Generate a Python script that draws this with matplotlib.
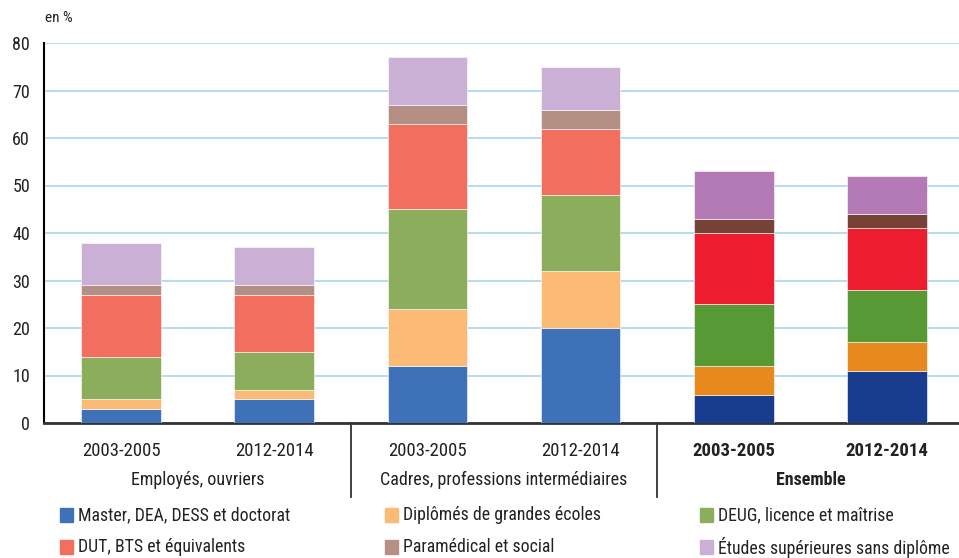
import matplotlib
matplotlib.use("Agg")
import matplotlib.pyplot as plt
import numpy as np
from matplotlib.patches import Rectangle
from matplotlib.transforms import blended_transform_factory

plt.rcParams['font.family'] = ['Roboto Condensed', 'DejaVu Sans']

periods = ["2003-2005", "2012-2014", "2003-2005", "2012-2014", "2003-2005", "2012-2014"]
groups = ["Employés, ouvriers", "Cadres, professions intermédiaires", "Ensemble"]
series = ["Master, DEA, DESS et doctorat", "Diplômés de grandes écoles", "DEUG, licence et maîtrise",
          "DUT, BTS et équivalents", "Paramédical et social", "Études supérieures sans diplôme"]

master = [3, 5, 12, 20, 6, 11]
grandes_ecoles = [2, 2, 12, 12, 6, 6]
deug = [9, 8, 21, 16, 13, 11]
dut = [13, 12, 18, 14, 15, 13]
paramedical = [2, 2, 4, 4, 3, 3]
sans_diplome = [9, 8, 10, 9, 10, 8]
values = [master, grandes_ecoles, deug, dut, paramedical, sans_diplome]

light = ["#3E71B8", "#FBBA76", "#8CAD5C", "#F26E5F", "#B48F83", "#CBB0D6"]
dark = ["#183C8E", "#E8891D", "#569935", "#ED1C2E", "#774236", "#B37AB5"]

fig = plt.figure(figsize=(9.59, 5.58), dpi=100)
ax = fig.add_axes([44 / 959, 1 - 423 / 558, 1 - 44 / 959, (423 - 43) / 558])

x = np.arange(len(periods))
bottom = np.zeros(len(periods))
for i, vals in enumerate(values):
    cols = [light[i]] * 4 + [dark[i]] * 2
    ax.bar(x, vals, 0.52, bottom=bottom, color=cols, edgecolor="white", linewidth=0.4, zorder=3)
    bottom += np.array(vals)

ax.set_ylim(0, 80)
ax.set_xlim(-0.503, 5.47)
ax.set_yticks(range(0, 81, 10))
ax.yaxis.grid(True, color="#A8D4F0", lw=1.2, zorder=0)
ax.tick_params(axis="y", length=0, pad=10, labelsize=13, labelcolor="#222222")
ax.tick_params(axis="x", length=0, pad=14, labelsize=13.5, labelcolor="#222222")
ax.set_xticks(x)
ax.set_xticklabels(periods)
for lab in ax.get_xticklabels()[4:]:
    lab.set_fontweight("bold")
for s in ["top", "right"]:
    ax.spines[s].set_visible(False)
ax.spines["left"].set_color("black")
ax.spines["left"].set_linewidth(1.5)
ax.spines["bottom"].set_color("#333333")
ax.spines["bottom"].set_linewidth(2)

tr = blended_transform_factory(ax.transData, ax.transAxes)
for g, name in enumerate(groups):
    ax.text(2 * g + 0.5, -57 / 380, name, transform=tr, ha="center", va="center", fontsize=13,
            color="#222222", fontweight="bold" if g == 2 else "normal")
for xs in [1.5, 3.5]:
    ax.plot([xs, xs], [0, -74 / 380], transform=tr, color="#333333", lw=1.3, clip_on=False)

fig.text(45 / 959, 1 - 18 / 558, "en %", fontsize=11, va="center", ha="left", color="#222222")

# legend
pos = [(60, 515), (385, 515), (700, 515), (60, 547), (385, 547), (700, 547)]
for i, (px, py) in enumerate(pos):
    fig.patches.append(Rectangle((px / 959, 1 - (py + 7) / 558), 13 / 959, 14 / 558,
                                 transform=fig.transFigure, color=light[i]))
    fig.text((px + 18) / 959, 1 - py / 558, series[i], fontsize=12.8, va="center", ha="left",
             color="#222222")

fig.savefig("out.png", dpi=100)
